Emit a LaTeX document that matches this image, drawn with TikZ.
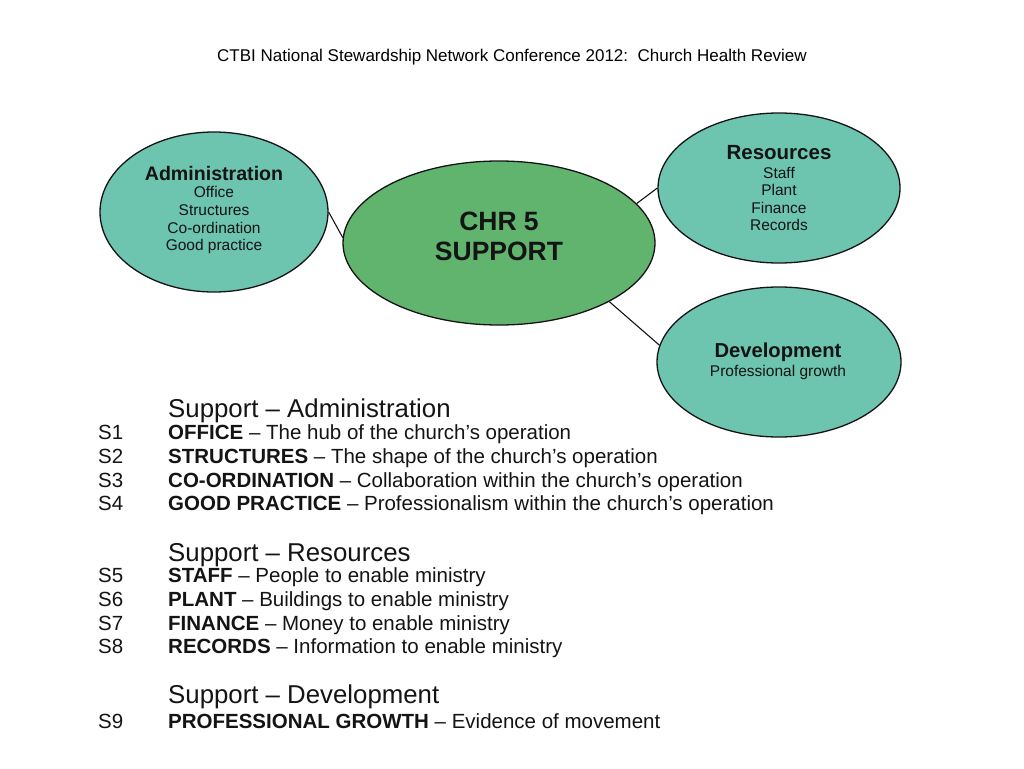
\documentclass[tikz,border=0pt]{standalone}
\usepackage{fontspec}
\setmainfont{Liberation Sans}
\usetikzlibrary{shapes.geometric}
\definecolor{teal1}{RGB}{109,196,175}
\definecolor{green1}{RGB}{97,180,110}
\definecolor{ink}{RGB}{20,20,20}
\newcommand{\fs}[1]{\fontsize{#1}{#1}\selectfont}
\tikzset{
  bubble/.style={ellipse, draw=ink, line width=1.3pt, inner sep=0pt},
  conn/.style={draw=ink, line width=1.1pt},
  ttl/.style={anchor=base, inner sep=0pt, text=black, font=\fs{17}},
  bhead/.style={anchor=base, inner sep=0pt, text=ink, font=\fs{19.6}\bfseries},
  bitem/.style={anchor=base, inner sep=0pt, text=ink, font=\fs{15.5}},
  chead/.style={anchor=base, inner sep=0pt, text=ink, font=\fs{26.5}\bfseries},
  lhead/.style={anchor=base west, inner sep=0pt, text=ink, font=\fs{25.8}},
  lrow/.style={anchor=base west, inner sep=0pt, text=ink, font=\fs{20.5}},
  lnum/.style={anchor=base west, inner sep=0pt, text=ink, font=\fs{20.5}},
}
\begin{document}
\begin{tikzpicture}[x=1pt,y=-1pt]
\useasboundingbox[fill=white] (0,0) rectangle (1024,768);

\node[ttl] (title) at (512,62) {CTBI National Stewardship Network Conference 2012:\ \ Church Health Review};

% bubbles
\node[bubble, fill=teal1, minimum width=228pt, minimum height=160pt] (adm) at (214,212) {};
\node[bubble, fill=green1, minimum width=312pt, minimum height=164pt] (sup) at (499,243) {};
\node[bubble, fill=teal1, minimum width=242pt, minimum height=150pt] (res) at (779,188) {};
\node[bubble, fill=teal1, minimum width=244pt, minimum height=150pt] (dev) at (779,362) {};

% connectors
\draw[conn] (adm.0) -- (sup.178);
\draw[conn] (sup.16) -- (res.180);
\draw[conn] (sup.-28) -- (dev.172);

% bubble texts
\node[bhead] (admh) at (214,180) {Administration};
\node[bitem] (adm1) at (214,197) {Office};
\node[bitem] (adm2) at (214,215) {Structures};
\node[bitem] (adm3) at (214,233) {Co-ordination};
\node[bitem] (adm4) at (214,250) {Good practice};

\node[chead] (sup1) at (499,230) {CHR 5};
\node[chead] (sup2) at (499,260) {SUPPORT};

\node[bhead, font=\fs{20.5}\bfseries] (resh) at (779,159) {Resources};
\node[bitem] (res1) at (779,178) {Staff};
\node[bitem] (res2) at (779,195) {Plant};
\node[bitem] (res3) at (779,213) {Finance};
\node[bitem] (res4) at (779,230) {Records};

\node[bhead, font=\fs{20.2}\bfseries] (devh) at (778,357) {Development};
\node[bitem] (dev1) at (778,376) {Professional growth};

% list: administration
\node[lhead] (h1) at (168,417) {Support – Administration};
\node[lnum] (n1) at (98,439) {S1};
\node[lrow] (r1) at (168,439) {\textbf{OFFICE} – The hub of the church’s operation};
\node[lnum] (n2) at (98,463) {S2};
\node[lrow] (r2) at (168,463) {\textbf{STRUCTURES} – The shape of the church’s operation};
\node[lnum] (n3) at (98,487) {S3};
\node[lrow] (r3) at (168,487) {\textbf{CO-ORDINATION} – Collaboration within the church’s operation};
\node[lnum] (n4) at (98,510) {S4};
\node[lrow] (r4) at (168,510) {\textbf{GOOD PRACTICE} – Professionalism within the church’s operation};

% list: resources
\node[lhead] (h2) at (168,561) {Support – Resources};
\node[lnum] (n5) at (98,582) {S5};
\node[lrow] (r5) at (168,582) {\textbf{STAFF} – People to enable ministry};
\node[lnum] (n6) at (98,606) {S6};
\node[lrow] (r6) at (168,606) {\textbf{PLANT} – Buildings to enable ministry};
\node[lnum] (n7) at (98,630) {S7};
\node[lrow] (r7) at (168,630) {\textbf{FINANCE} – Money to enable ministry};
\node[lnum] (n8) at (98,653) {S8};
\node[lrow] (r8) at (168,653) {\textbf{RECORDS} – Information to enable ministry};

% list: development
\node[lhead] (h3) at (168,703) {Support – Development};
\node[lnum] (n9) at (98,728) {S9};
\node[lrow] (r9) at (168,728) {\textbf{PROFESSIONAL GROWTH} – Evidence of movement};
\end{tikzpicture}
\end{document}
